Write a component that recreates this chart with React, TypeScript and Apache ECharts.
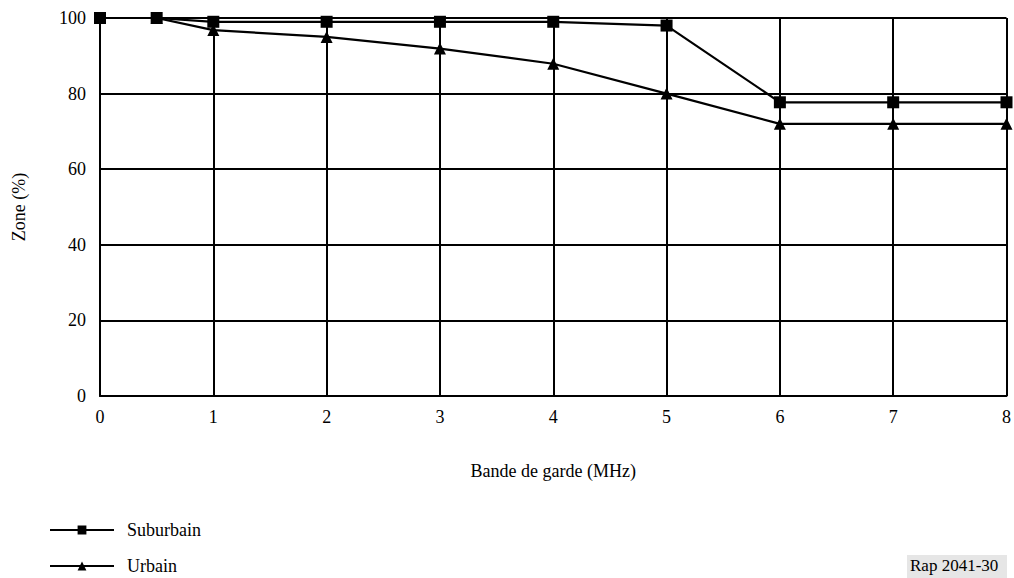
import React, { useEffect, useRef } from "react";
import * as echarts from "echarts";

const xValues = [0, 0.5, 1, 2, 3, 4, 5, 6, 7, 8];
const suburbain = [100, 100, 99, 99, 99, 99, 98, 77.7, 77.7, 77.7];
const urbain = [100, 100, 96.8, 95, 91.9, 87.9, 80, 72, 72, 72];
const seriesNames = ["Suburbain", "Urbain"];
const xAxisName = "Bande de garde (MHz)";
const yAxisName = "Zone (%)";
const noteText = "Rap 2041-30";

const FONT = "Times New Roman, Liberation Serif, DejaVu Serif, serif";

export default function App() {
  const ref = useRef<HTMLDivElement>(null);
  useEffect(() => {
    if (!ref.current) return;
    const chart = echarts.init(ref.current, undefined, { renderer: "svg" });
    const toPairs = (ys: number[]) => xValues.map((x, i) => [x, ys[i]]);
    chart.setOption({
      animation: false,
      backgroundColor: "#ffffff",
      textStyle: { fontFamily: FONT, color: "#000000" },
      grid: { left: 100, right: 6, top: 18, bottom: 182, containLabel: false },
      xAxis: {
        type: "value",
        min: 0,
        max: 8,
        interval: 1,
        name: xAxisName,
        nameLocation: "middle",
        nameGap: 66,
        nameTextStyle: { fontFamily: FONT, fontSize: 18, color: "#000000" },
        axisLine: { show: true, lineStyle: { color: "#000000", width: 2 } },
        axisTick: { show: false },
        axisLabel: { fontFamily: FONT, fontSize: 18, color: "#000000", margin: 12 },
        splitLine: { show: true, lineStyle: { color: "#000000", width: 2 } },
      },
      yAxis: {
        type: "value",
        min: 0,
        max: 100,
        interval: 20,
        name: yAxisName,
        nameLocation: "middle",
        nameGap: 72,
        nameRotate: 90,
        nameTextStyle: { fontFamily: FONT, fontSize: 18, color: "#000000" },
        axisLine: { show: true, lineStyle: { color: "#000000", width: 2 } },
        axisTick: { show: false },
        axisLabel: { fontFamily: FONT, fontSize: 18, color: "#000000", margin: 14 },
        splitLine: { show: true, lineStyle: { color: "#000000", width: 2 } },
      },
      legend: {
        orient: "vertical",
        left: 49,
        top: 521,
        height: 57,
        padding: 0,
        itemWidth: 64,
        itemHeight: 11,
        itemGap: 18,
        itemStyle: { color: "#000000" },
        textStyle: { fontFamily: FONT, fontSize: 18, color: "#000000", padding: [0, 0, 0, 8] },
        data: seriesNames,
      },
      graphic: [
        {
          type: "rect",
          left: 907,
          top: 555,
          shape: { width: 100, height: 23 },
          style: { fill: "#e6e6e6" },
        },
        {
          type: "text",
          left: 910,
          top: 557,
          style: { text: noteText, fontFamily: FONT, fontSize: 17, fill: "#000000" },
        },
      ],
      series: [
        {
          name: seriesNames[0],
          type: "line",
          data: toPairs(suburbain),
          symbol: "rect",
          symbolSize: 12,
          showAllSymbol: true,
          lineStyle: { color: "#000000", width: 2.2 },
          itemStyle: { color: "#000000" },
          z: 3,
        },
        {
          name: seriesNames[1],
          type: "line",
          data: toPairs(urbain),
          symbol: "triangle",
          symbolSize: 12,
          showAllSymbol: true,
          lineStyle: { color: "#000000", width: 2.2 },
          itemStyle: { color: "#000000" },
          z: 2,
        },
      ],
    });
    return () => chart.dispose();
  }, []);
  return <div ref={ref} style={{ width: 1014, height: 578, position: "absolute", left: 0, top: 0 }} />;
}
